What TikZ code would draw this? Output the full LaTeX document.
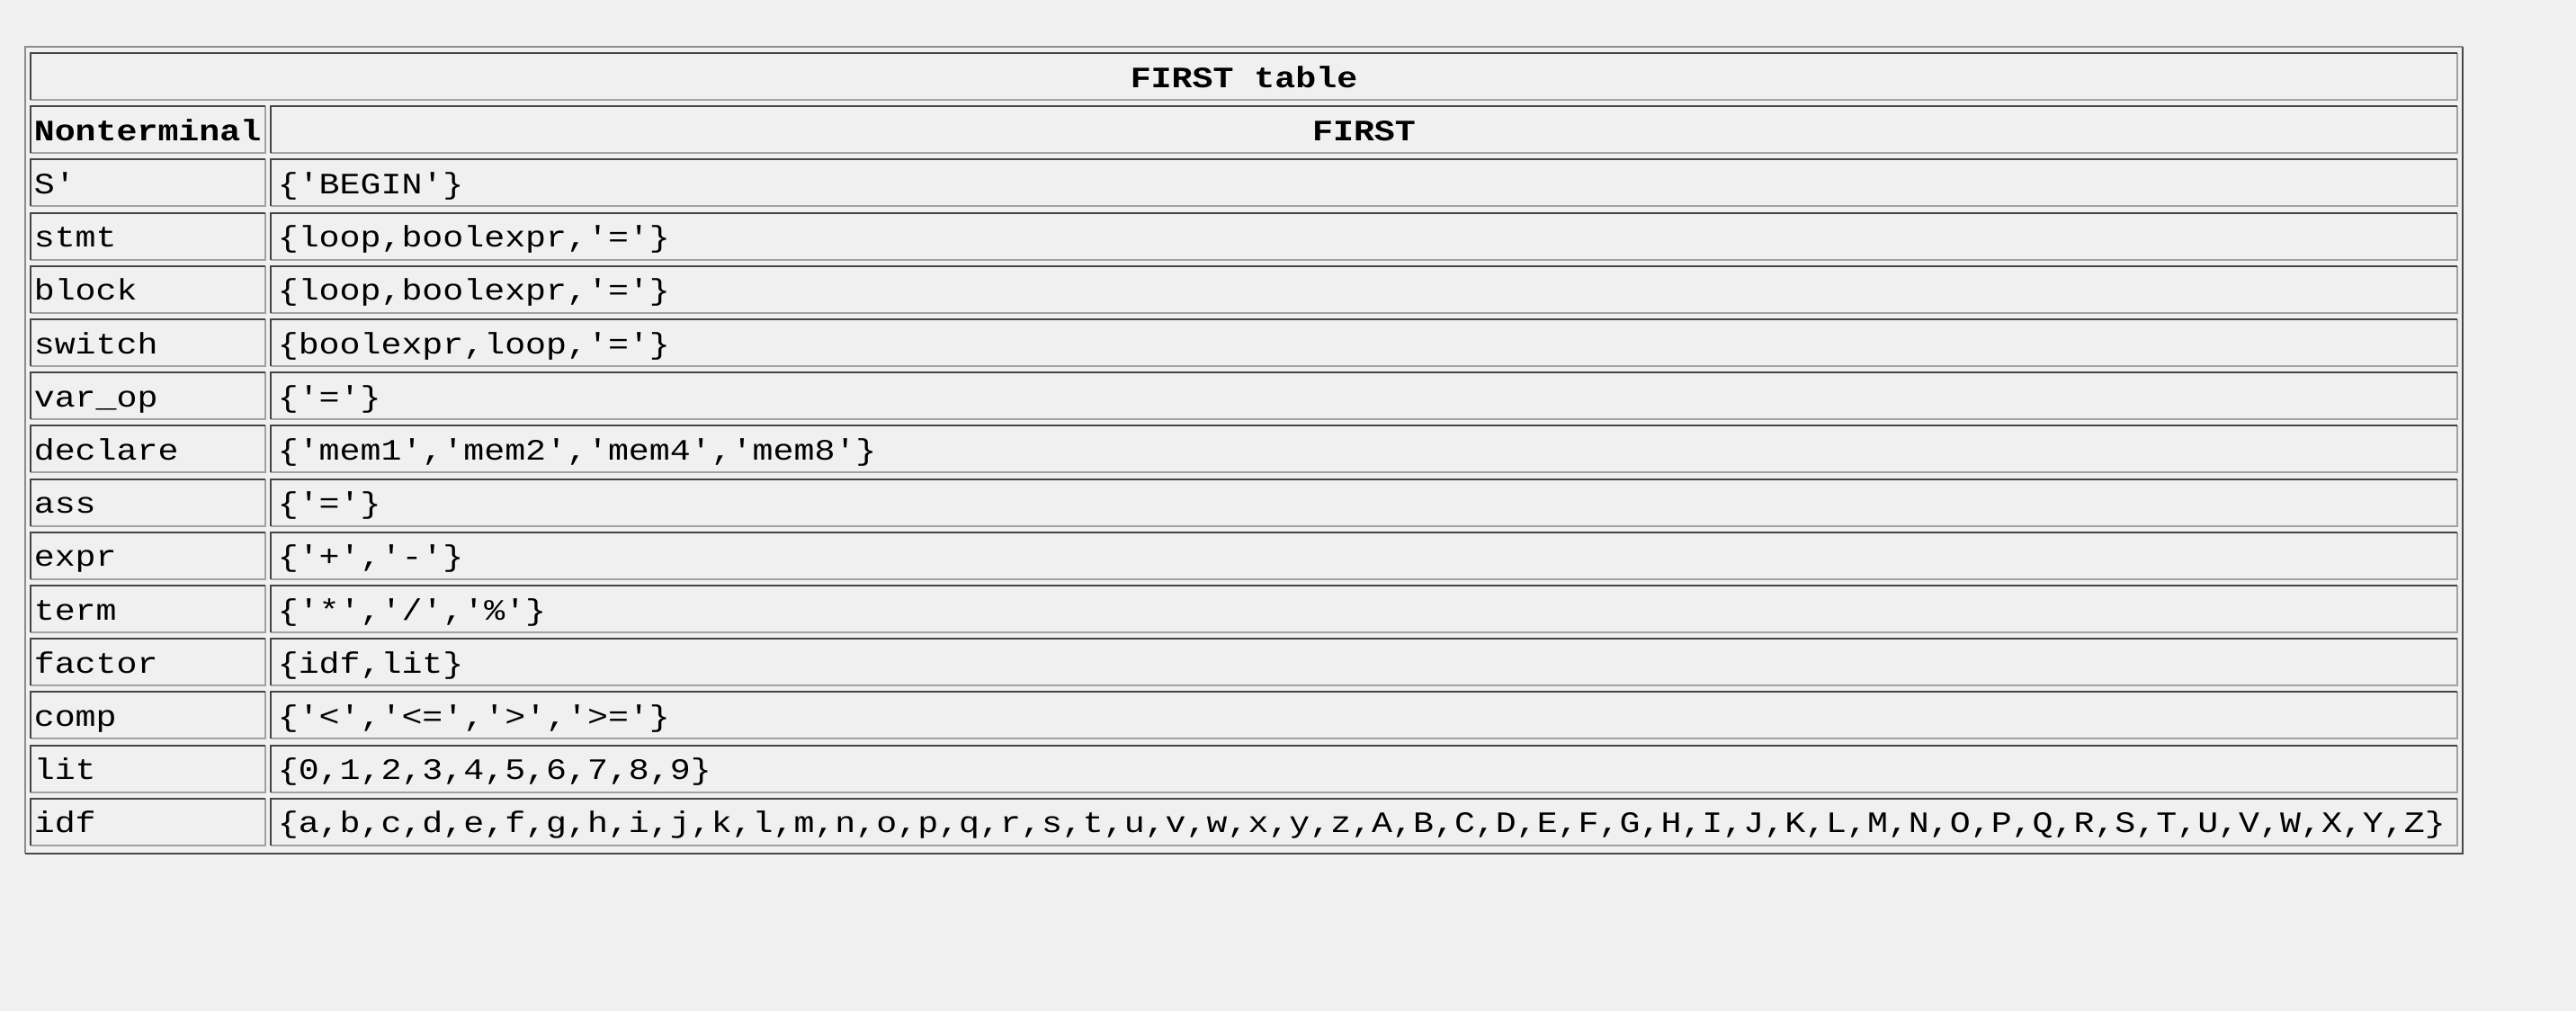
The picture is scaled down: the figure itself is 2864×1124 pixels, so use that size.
\documentclass[tikz,border=0pt]{standalone}
\usepackage{fontspec}
\setmonofont{Liberation Mono}[FakeStretch=1.162]
\definecolor{bgc}{HTML}{F0F0F0}
\definecolor{olight}{HTML}{8C8C8C}
\definecolor{odark}{HTML}{484848}
\definecolor{cdark}{HTML}{444444}
\definecolor{clight}{HTML}{A2A2A2}
\newcommand\cellbox[4]{%
  \draw[clightline] ({#1+1},{#4-1}) -- ({#3-1},{#4-1}) -- ({#3-1},{#2+1});
  \draw[cdarkline] ({#1+1},{#4-1}) -- ({#1+1},{#2+1}) -- ({#3-1},{#2+1});
}
\newcommand\tabrow[3]{%
  \pgfmathsetmacro\rowtop{58+59.2*#1}%
  \pgfmathsetmacro\rowbot{\rowtop+54}%
  \cellbox{33}{\rowtop}{296}{\rowbot}
  \cellbox{300}{\rowtop}{2733}{\rowbot}
  \node[txt,anchor=base west] (n#1) at (37,{\rowtop+39}) {#2};
  \node[txt,anchor=base west] (f#1) at (308,{\rowtop+39}) {#3};
}
\begin{document}
\begin{tikzpicture}[x=0.25pt,y=-0.25pt,
  txt/.style={inner sep=0pt,font=\ttfamily\fontsize{8.23pt}{10pt}\selectfont},
  btxt/.style={txt,font=\ttfamily\bfseries\fontsize{8.23pt}{10pt}\selectfont},
  clightline/.style={draw=clight,line width=0.5pt},
  cdarkline/.style={draw=cdark,line width=0.5pt},
  olightline/.style={draw=olight,line width=0.5pt},
  odarkline/.style={draw=odark,line width=0.5pt}]
\fill[bgc] (0,0) rectangle (2864,1124);
\useasboundingbox (0,0) rectangle (2864,1124);
% outer table border
\draw[olightline] (28,949) -- (28,52) -- (2738,52);
\draw[odarkline] (28,949) -- (2738,949) -- (2738,52);
% title row
\cellbox{33}{58}{2733}{112}
\node[btxt,anchor=base] (title) at (1383,97) {FIRST table};
% header row
\pgfmathsetmacro\hdtop{58+59.2}
\cellbox{33}{\hdtop}{296}{\hdtop+54}
\cellbox{300}{\hdtop}{2733}{\hdtop+54}
\node[btxt,anchor=base west] (hnt) at (37,{\hdtop+39}) {Nonterminal};
\node[btxt,anchor=base] (hfirst) at (1516.5,{\hdtop+39}) {FIRST};
% data rows
\tabrow{2}{S'}{\{'BEGIN'\}}
\tabrow{3}{stmt}{\{loop,boolexpr,'='\}}
\tabrow{4}{block}{\{loop,boolexpr,'='\}}
\tabrow{5}{switch}{\{boolexpr,loop,'='\}}
\tabrow{6}{var\_op}{\{'='\}}
\tabrow{7}{declare}{\{'mem1','mem2','mem4','mem8'\}}
\tabrow{8}{ass}{\{'='\}}
\tabrow{9}{expr}{\{'+','-'\}}
\tabrow{10}{term}{\{'*','/','\%'\}}
\tabrow{11}{factor}{\{idf,lit\}}
\tabrow{12}{comp}{\{'<','<=','>','>='\}}
\tabrow{13}{lit}{\{0,1,2,3,4,5,6,7,8,9\}}
\tabrow{14}{idf}{\{a,b,c,d,e,f,g,h,i,j,k,l,m,n,o,p,q,r,s,t,u,v,w,x,y,z,A,B,C,D,E,F,G,H,I,J,K,L,M,N,O,P,Q,R,S,T,U,V,W,X,Y,Z\}}
\end{tikzpicture}
\end{document}
